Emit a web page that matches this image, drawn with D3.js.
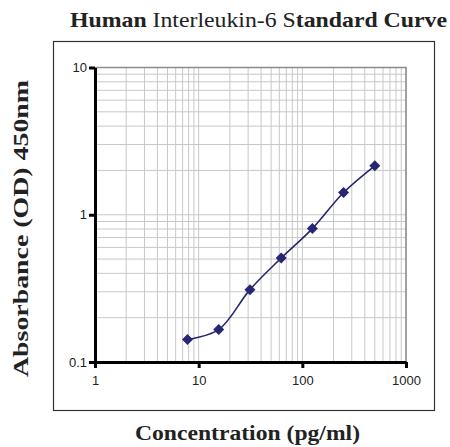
<html>
<head>
<script src="https://d3js.org/d3.v7.min.js"></script>
<style>
body { margin: 0; background: #fff; }
</style>
</head>
<body>
<svg width="450" height="447"></svg>
<script>
// standard curve values
var concentrations = [7.8, 15.6, 31.25, 62.5, 125, 250, 500];
var absorbance = [0.142, 0.166, 0.310, 0.508, 0.805, 1.416, 2.15];
var xTicks = [1, 10, 100, 1000];
var yTicks = [0.1, 1, 10];

var serif = "'Liberation Serif', 'Times New Roman', serif";
var svg = d3.select("svg");

var xs = d3.scaleLog().domain([1, 1000]).range([95, 406]);
var ys = d3.scaleLog().domain([0.1, 10]).range([362, 67.5]);

// outer frame
svg.append("rect")
  .attr("x", 53.5).attr("y", 41.5)
  .attr("width", 381).attr("height", 369)
  .attr("fill", "none").attr("stroke", "#333").attr("stroke-width", 1.2);

// grid lines (every 1..9 of each decade)
var xGrid = [], yGrid = [];
[1, 10, 100].forEach(function(d) { for (var i = 1; i <= 9; i++) xGrid.push(d * i); });
xGrid.push(1000);
[0.1, 1].forEach(function(d) { for (var i = 1; i <= 9; i++) yGrid.push(d * i); });
yGrid.push(10);

svg.append("g").selectAll("line").data(xGrid).enter().append("line")
  .attr("x1", function(d) { return xs(d); }).attr("x2", function(d) { return xs(d); })
  .attr("y1", ys(10)).attr("y2", ys(0.1))
  .attr("stroke", "#c8c8c8").attr("stroke-width", 1);

svg.append("g").selectAll("line").data(yGrid).enter().append("line")
  .attr("x1", xs(1)).attr("x2", xs(1000))
  .attr("y1", function(d) { return ys(d); }).attr("y2", function(d) { return ys(d); })
  .attr("stroke", "#c8c8c8").attr("stroke-width", 1);

// plot area border top/right
svg.append("path")
  .attr("d", "M" + xs(1) + "," + ys(10) + "H" + xs(1000) + "V" + ys(0.1))
  .attr("fill", "none").attr("stroke", "#8c8c8c").attr("stroke-width", 1.5);

// x axis
var xAxis = svg.append("g")
  .attr("transform", "translate(0," + ys(0.1) + ")")
  .call(d3.axisBottom(xs).tickValues(xTicks).tickFormat(d3.format("d")).tickSizeInner(6).tickSizeOuter(0).tickPadding(8));

// y axis
var yAxis = svg.append("g")
  .attr("transform", "translate(" + xs(1) + ",0)")
  .call(d3.axisLeft(ys).tickValues(yTicks).tickFormat(function(d) { return d; }).tickSizeInner(6).tickSizeOuter(0).tickPadding(2));

[xAxis, yAxis].forEach(function(a) {
  a.select(".domain").attr("stroke", "#000").attr("stroke-width", 3);
  a.selectAll(".tick line").attr("stroke", "#000").attr("stroke-width", 3);
  a.selectAll(".tick text").attr("fill", "#222")
    .style("font-family", "'Liberation Sans', Arial, sans-serif").style("font-size", "13px");
});

// curve
svg.append("path")
  .datum(concentrations.map(function(c, i) { return [c, absorbance[i]]; }))
  .attr("fill", "none").attr("stroke", "#262673").attr("stroke-width", 1.6)
  .attr("d", d3.line()
    .x(function(d) { return xs(d[0]); })
    .y(function(d) { return ys(d[1]); })
    .curve(d3.curveCatmullRom.alpha(0.5)));

// diamond markers
svg.append("g").selectAll("path").data(concentrations).enter().append("path")
  .attr("transform", function(d, i) { return "translate(" + xs(d) + "," + ys(absorbance[i]) + ")"; })
  .attr("d", "M0,-5.5L5.5,0L0,5.5L-5.5,0Z")
  .attr("fill", "#262673");

// title
var title = svg.append("text")
  .attr("x", 70).attr("y", 27)
  .attr("textLength", 377).attr("lengthAdjust", "spacingAndGlyphs")
  .style("font-family", serif)
  .style("font-size", "21px").attr("fill", "#222");
title.append("tspan").attr("font-weight", "bold").text("Human");
title.append("tspan").text(" Interleukin-6 S");
title.append("tspan").attr("font-weight", "bold").text("tandard Curve");

// axis titles
svg.append("text")
  .attr("x", 135).attr("y", 440)
  .attr("textLength", 225).attr("lengthAdjust", "spacingAndGlyphs")
  .style("font-family", serif)
  .style("font-size", "22px").attr("font-weight", "bold").attr("fill", "#222")
  .text("Concentration (pg/ml)");

svg.append("text")
  .attr("transform", "translate(28,377) rotate(-90)")
  .attr("textLength", 297).attr("lengthAdjust", "spacingAndGlyphs")
  .style("font-family", serif)
  .style("font-size", "22px").attr("font-weight", "bold").attr("fill", "#222")
  .text("Absorbance (OD) 450nm");
</script>
</body>
</html>
